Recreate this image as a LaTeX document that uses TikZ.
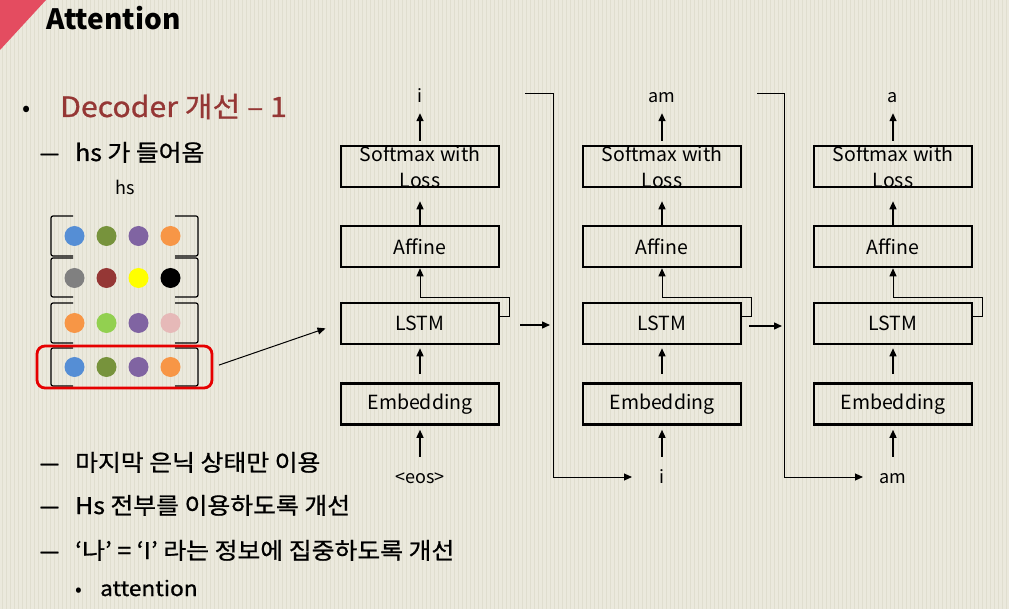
\documentclass[tikz,border=0pt]{standalone}
\usepackage{fontspec}
\setmainfont{Noto Sans CJK KR}
\newfontfamily\krbold[FakeBold=0.9, FakeStretch=1.08]{Noto Sans CJK KR}
\usetikzlibrary{calc,arrows.meta}

\definecolor{paper}{RGB}{235,233,221}
\definecolor{stripe}{RGB}{224,222,207}
\definecolor{corner}{RGB}{228,76,96}
\definecolor{decred}{RGB}{149,55,53}
\definecolor{dblue}{RGB}{85,142,213}
\definecolor{dolive}{RGB}{119,147,60}
\definecolor{dpurple}{RGB}{128,100,162}
\definecolor{dorange}{RGB}{247,150,70}
\definecolor{dgrey}{RGB}{128,128,128}
\definecolor{dbrown}{RGB}{149,55,53}
\definecolor{dyellow}{RGB}{255,255,0}
\definecolor{dlime}{RGB}{146,208,80}
\definecolor{dpink}{RGB}{230,185,184}
\definecolor{selred}{RGB}{230,0,0}

\tikzset{
	layer/.style={draw, line width=2.6pt, minimum width=158pt, minimum height=41pt, inner sep=0pt},
	lbl/.style={font=\fontsize{19.5}{19.5}\selectfont},
	word/.style={font=\fontsize{18}{18}\selectfont, inner sep=2pt, text height=13pt, text depth=4pt},
	txt/.style={inner sep=0pt, anchor=base west},
	big/.style={font=\krbold\fontsize{23}{23}\selectfont},
	dashmark/.style={inner sep=0pt, anchor=base, font=\krbold\fontsize{23}{23}\selectfont},
	arr/.style={line width=1.4pt, -{Triangle[length=8pt,width=7pt]}},
	brk/.style={line width=1.2pt, rounded corners=2pt},
	selbox/.style={draw=selred, line width=2.8pt, rounded corners=8pt, minimum width=175pt, minimum height=42pt, inner sep=0pt}
}

\begin{document}
\begin{tikzpicture}[x=1pt, y=-1pt]
		%%%%% BACKGROUND %%%%%
		\useasboundingbox (0,0) rectangle (1009,609);
		\fill[paper] (0,0) rectangle (1009,609);
		\foreach \s in {2,6,...,1006}
			\draw[stripe, line width=1pt] (\s,0) -- (\s,609);
		\fill[corner] (0,0) -- (46,0) -- (0,50) -- cycle;
		
		%%%%% BULLETS %%%%%
		\node[txt, font=\fontsize{28}{28}\selectfont\bfseries] (title) at (46,30) {Attention};
		\node[inner sep=0pt, anchor=base, font=\fontsize{24}{24}\selectfont] (b0) at (27,117) {•};
		\node[txt, text=decred, font=\krbold\fontsize{28}{28}\selectfont] (dec) at (60,117) {Decoder 개선 – 1};
		\node[dashmark] (d1) at (49.5,161) {\scalebox{1.6}[1]{–}};
		\node[txt, big] (hsin) at (75,161) {hs 가 들어옴};
		
		\node[dashmark] (d2) at (49.5,471) {\scalebox{1.6}[1]{–}};
		\node[txt, big] (l1) at (75,471) {마지막 은닉 상태만 이용};
		\node[dashmark] (d3) at (49.5,514) {\scalebox{1.6}[1]{–}};
		\node[txt, big] (l2) at (75,514) {Hs 전부를 이용하도록 개선};
		\node[dashmark] (d4) at (49.5,559) {\scalebox{1.6}[1]{–}};
		\node[txt, big] (l3) at (75,559) {‘나’ = ‘I’ 라는 정보에 집중하도록 개선};
		\node[inner sep=0pt, anchor=base, font=\fontsize{20}{20}\selectfont] (b5) at (79,596) {•};
		\node[txt, font=\krbold\fontsize{21}{21}\selectfont] (l4) at (100,596) {attention};
		
		%%%%% HS MATRIX %%%%%
		\node[inner sep=0pt, anchor=base, font=\fontsize{18}{18}\selectfont] (hs) at (125,195) {hs};
		\foreach \t/\b in {216/256, 258/297, 303/343, 348/386} {
			\draw[brk] (73,\t) -- (51,\t) -- (51,\b) -- (73,\b);
			\draw[brk] (175,\t) -- (198,\t) -- (198,\b) -- (175,\b);
		}
		\foreach \y/\cs in {236/{dblue,dolive,dpurple,dorange}, 278/{dgrey,dbrown,dyellow,black}, 323/{dorange,dlime,dpurple,dpink}, 367/{dblue,dolive,dpurple,dorange}}
			\foreach \c [count=\k] in \cs
				\fill[\c] ({74.5+32*(\k-1)},\y) circle[radius=10pt];
		\node[selbox] (sel) at (124.5,367) {};
		
		%%%%% DECODER %%%%%
		\foreach \x/\n/\wo/\wi in {420/1/i/{<eos>}, 662/2/am/i, 893/3/a/am} {
			\node[lbl, anchor=base] (smt\n) at (\x,162) {Softmax with};
			\node[lbl, anchor=base] (sml\n) at (\x,188) {Loss};
			\node[layer] (sm\n) at (\x,166.5) {};
			\node[layer, lbl] (af\n) at (\x,246.5) {Affine};
			\node[layer, lbl] (ls\n) at (\x,323.5) {LSTM};
			\node[layer, lbl] (em\n) at (\x,404) {Embedding};
			\node[word, anchor=base] (out\n) at (\x,103) {\wo};
			\node[word, anchor=base] (in\n) at (\x,483) {\wi};
			\draw[arr, shorten <=4pt, shorten >=4pt] (sm\n.north) -- (out\n.south);
			\draw[arr, shorten >=13pt] (af\n.north) -- (sm\n.south);
			\draw[arr, line width=1pt] ($(ls\n.east)+(0,-6.5)$) -- ++(9,0) |- ($(af\n.south)+(0,29.5)$) -- (af\n.south);
			\draw[arr, shorten <=8pt, shorten >=3pt] (em\n.north) -- (ls\n.south);
			\draw[arr, shorten <=11pt, shorten >=4pt] (in\n.north) -- (em\n.south);
		}
		
		%%%%% FEEDBACK %%%%%
		\coordinate (r1a) at (525,94);
		\coordinate (r1b) at (553,477);
		\coordinate (r1c) at (632,477);
		\coordinate (r2a) at (757,94);
		\coordinate (r2b) at (784,477);
		\coordinate (r2c) at (863,477);
		\draw[arr, line width=1pt] (r1a) -| (r1b) -- (r1c);
		\draw[arr, line width=1pt] (r2a) -| (r2b) -- (r2c);
		\draw[arr] ($(ls1.east)+(20,1.5)$) -- ($(r1b |- ls1.east)+(-3,1.5)$);
		\draw[arr] ($(ls2.east)+(7,2.5)$) -- ($(r2b |- ls2.east)+(-2,2.5)$);
		
		\draw[arr, line width=1pt, shorten <=6pt, shorten >=15pt] (sel.east) -- (ls1.west);
		%%%%% END %%%%%
\end{tikzpicture}
\end{document}
